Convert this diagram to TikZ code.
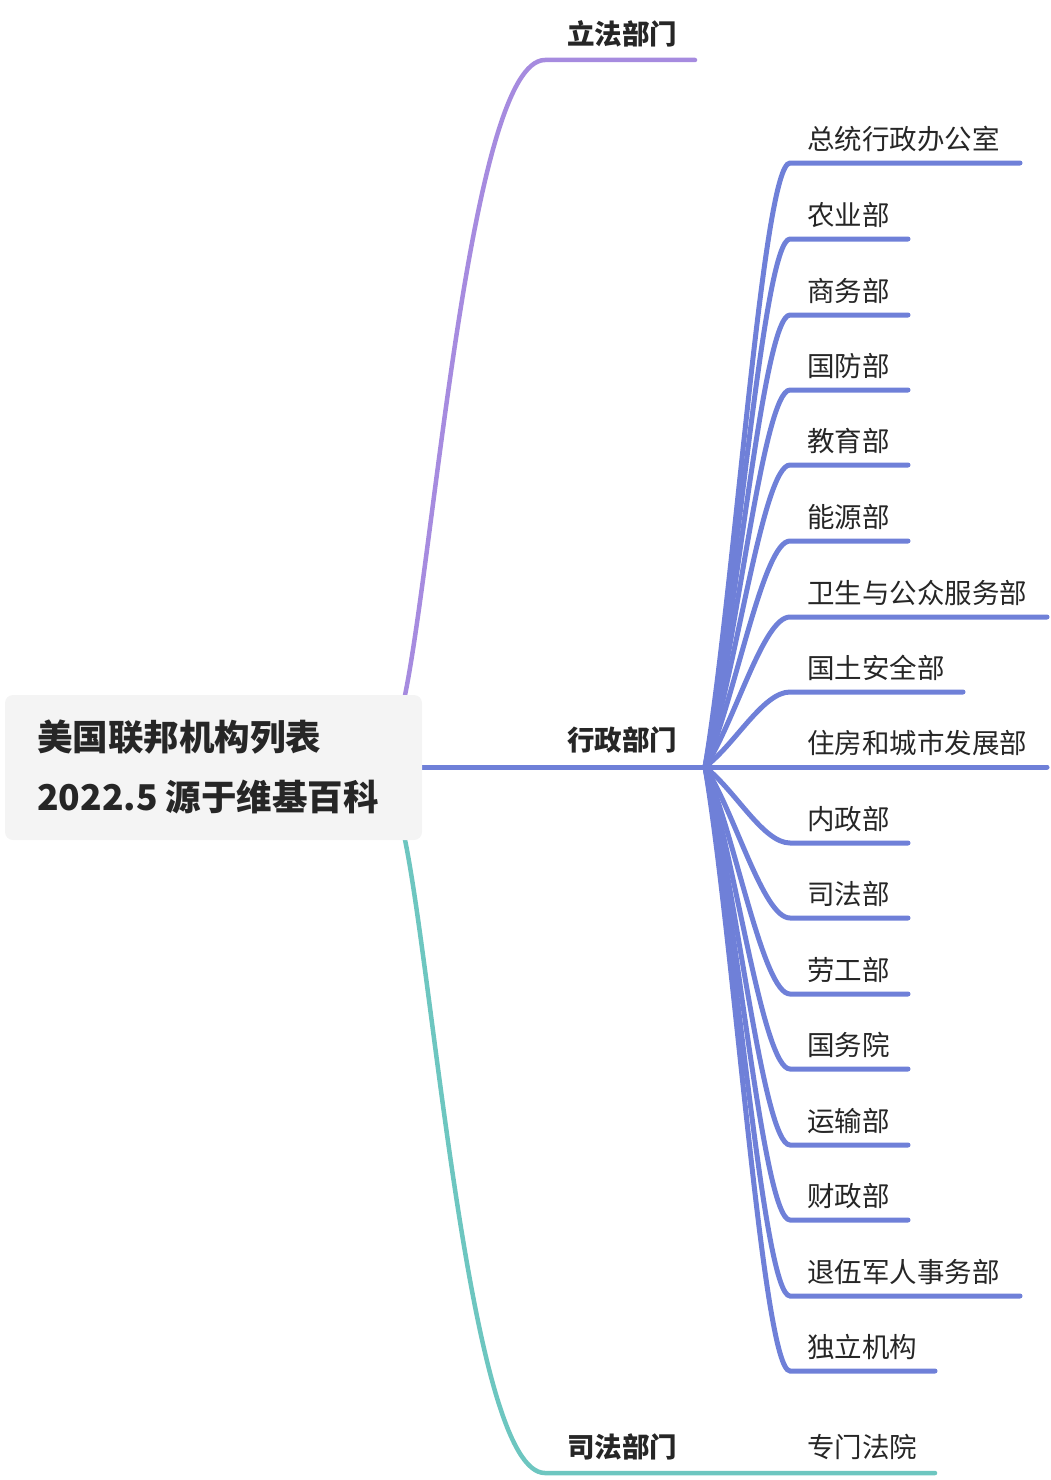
\documentclass[tikz,border=0pt]{standalone}
\usepackage{fontspec}
\setmainfont{Noto Sans CJK SC}
\usetikzlibrary{calc}
\definecolor{cpurple}{HTML}{A68BDF}
\definecolor{cblue}{HTML}{6F80D8}
\definecolor{cteal}{HTML}{6DC6C0}
\definecolor{ctext}{HTML}{262626}
\definecolor{cbox}{HTML}{F4F4F4}
\begin{document}
\begin{tikzpicture}[x=1pt,y=-1pt,
  conn/.style={line width=4.5pt,line cap=round},
  leafconn/.style={line width=5pt,line cap=round,cblue},
  rootbox/.style={fill=cbox,rounded corners=8pt,minimum width=417pt,minimum height=145pt,inner sep=0pt},
  roottext/.style={anchor=base west,inner sep=0pt,text=ctext,font=\fontsize{35.5}{40}\selectfont\bfseries},
  mainlabel/.style={anchor=base west,inner sep=0pt,text=ctext,font=\fontsize{27.5}{32}\selectfont\bfseries},
  leaf/.style={anchor=base west,inner sep=0pt,text=ctext,font=\fontsize{27.5}{32}\selectfont}]
\useasboundingbox (0,0) rectangle (1050,1480);
% main branch coordinates
\coordinate (pstart) at (404,700);
\coordinate (pcorner) at (545,60);
\coordinate (pend) at (695,60);
\coordinate (tstart) at (404,835);
\coordinate (tcorner) at (545,1473);
\coordinate (tend) at (935,1473);
\coordinate (hub) at (705,767);
\coordinate (bstart) at (420,767);
% legislative
\draw[conn,cpurple] (pstart) .. controls (434,560) and (470,60) .. (pcorner) -- (pend);
% judicial
\draw[conn,cteal] (tstart) .. controls (434,975) and (470,1473) .. (tcorner) -- (tend);
% executive
\draw[leafconn] (bstart) -- (hub);
\foreach \n/\y/\e/\t in {
  a/163/1020/总统行政办公室,
  b/239/908/农业部,
  c/315/908/商务部,
  d/390/908/国防部,
  e/465/908/教育部,
  f/541/908/能源部,
  g/617/1047/卫生与公众服务部,
  h/692/963/国土安全部,
  i/767/1047/住房和城市发展部,
  j/843/908/内政部,
  k/918/908/司法部,
  l/994/908/劳工部,
  m/1069/908/国务院,
  n/1145/908/运输部,
  o/1220/908/财政部,
  p/1296/1020/退伍军人事务部,
  q/1371/935/独立机构} {
  \pgfmathsetmacro{\ay}{767-0.3*(767-\y)}
  \coordinate (s\n) at (790,\y);
  \coordinate (e\n) at (\e,\y);
  \node[leaf] (l\n) at (807,\y-14) {\t};
  \draw[leafconn] (hub) .. controls (735,\ay) and (763,\y) .. (s\n) -- (e\n);
}
% root box
\node[rootbox] (root) at (213.5,767.5) {};
\node[roottext] (r1) at (37,750) {美国联邦机构列表};
\node[roottext] (r2) at (37,810) {2022.5 源于维基百科};
% main labels
\node[mainlabel] (leg) at (567,45) {立法部门};
\node[mainlabel] (exe) at (567,750) {行政部门};
\node[mainlabel] (jud) at (567,1457) {司法部门};
\node[leaf] (court) at (807,1457) {专门法院};
\end{tikzpicture}
\end{document}
